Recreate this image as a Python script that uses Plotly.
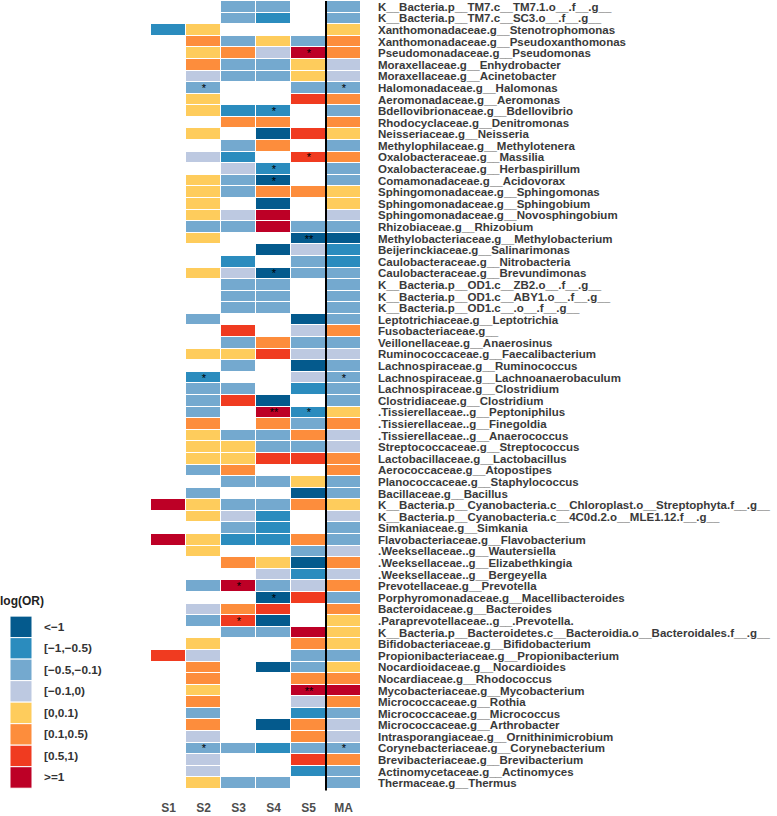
import plotly.graph_objects as go

N = None
taxa = [
    "K__Bacteria.p__TM7.c__TM7.1.o__.f__.g__",
    "K__Bacteria.p__TM7.c__SC3.o__.f__.g__",
    "Xanthomonadaceae.g__Stenotrophomonas",
    "Xanthomonadaceae.g__Pseudoxanthomonas",
    "Pseudomonadaceae.g__Pseudomonas",
    "Moraxellaceae.g__Enhydrobacter",
    "Moraxellaceae.g__Acinetobacter",
    "Halomonadaceae.g__Halomonas",
    "Aeromonadaceae.g__Aeromonas",
    "Bdellovibrionaceae.g__Bdellovibrio",
    "Rhodocyclaceae.g__Denitromonas",
    "Neisseriaceae.g__Neisseria",
    "Methylophilaceae.g__Methylotenera",
    "Oxalobacteraceae.g__Massilia",
    "Oxalobacteraceae.g__Herbaspirillum",
    "Comamonadaceae.g__Acidovorax",
    "Sphingomonadaceae.g__Sphingomonas",
    "Sphingomonadaceae.g__Sphingobium",
    "Sphingomonadaceae.g__Novosphingobium",
    "Rhizobiaceae.g__Rhizobium",
    "Methylobacteriaceae.g__Methylobacterium",
    "Beijerinckiaceae.g__Salinarimonas",
    "Caulobacteraceae.g__Nitrobacteria",
    "Caulobacteraceae.g__Brevundimonas",
    "K__Bacteria.p__OD1.c__ZB2.o__.f__.g__",
    "K__Bacteria.p__OD1.c__ABY1.o__.f__.g__",
    "K__Bacteria.p__OD1.c__.o__.f__.g__",
    "Leptotrichiaceae.g__Leptotrichia",
    "Fusobacteriaceae.g__",
    "Veillonellaceae.g__Anaerosinus",
    "Ruminococcaceae.g__Faecalibacterium",
    "Lachnospiraceae.g__Ruminococcus",
    "Lachnospiraceae.g__Lachnoanaerobaculum",
    "Lachnospiraceae.g__Clostridium",
    "Clostridiaceae.g__Clostridium",
    ".Tissierellaceae..g__Peptoniphilus",
    ".Tissierellaceae..g__Finegoldia",
    ".Tissierellaceae..g__Anaerococcus",
    "Streptococcaceae.g__Streptococcus",
    "Lactobacillaceae.g__Lactobacillus",
    "Aerococcaceae.g__Atopostipes",
    "Planococcaceae.g__Staphylococcus",
    "Bacillaceae.g__Bacillus",
    "K__Bacteria.p__Cyanobacteria.c__Chloroplast.o__Streptophyta.f__.g__",
    "K__Bacteria.p__Cyanobacteria.c__4C0d.2.o__MLE1.12.f__.g__",
    "Simkaniaceae.g__Simkania",
    "Flavobacteriaceae.g__Flavobacterium",
    ".Weeksellaceae..g__Wautersiella",
    ".Weeksellaceae..g__Elizabethkingia",
    ".Weeksellaceae..g__Bergeyella",
    "Prevotellaceae.g__Prevotella",
    "Porphyromonadaceae.g__Macellibacteroides",
    "Bacteroidaceae.g__Bacteroides",
    ".Paraprevotellaceae..g__.Prevotella.",
    "K__Bacteria.p__Bacteroidetes.c__Bacteroidia.o__Bacteroidales.f__.g__",
    "Bifidobacteriaceae.g__Bifidobacterium",
    "Propionibacteriaceae.g__Propionibacterium",
    "Nocardioidaceae.g__Nocardioides",
    "Nocardiaceae.g__Rhodococcus",
    "Mycobacteriaceae.g__Mycobacterium",
    "Micrococcaceae.g__Rothia",
    "Micrococcaceae.g__Micrococcus",
    "Micrococcaceae.g__Arthrobacter",
    "Intrasporangiaceae.g__Ornithinimicrobium",
    "Corynebacteriaceae.g__Corynebacterium",
    "Brevibacteriaceae.g__Brevibacterium",
    "Actinomycetaceae.g__Actinomyces",
    "Thermaceae.g__Thermus",
]

columns = ["S1", "S2", "S3", "S4", "S5", "MA"]

# category codes: 1 "<-1" ... 8 ">=1"
S1 = [N,N,2,N,N,N,N,N,N,N, N,N,N,N,N,N,N,N,N,N, N,N,N,N,N,N,N,N,N,N,
      N,N,N,N,N,N,N,N,N,N, N,N,N,8,N,N,8,N,N,N, N,N,N,N,N,N,7,N,N,N,
      N,N,N,N,N,N,N,N]
S2 = [N,N,5,6,5,6,4,3,5,5, N,5,N,4,N,5,5,5,5,3, 5,N,N,5,N,N,N,3,N,N,
      5,N,2,3,3,3,6,5,5,5, 3,N,3,5,5,N,5,5,N,N, 3,N,4,3,N,5,4,6,6,5,
      6,3,6,4,3,4,4,5]
S3 = [3,3,N,3,6,3,3,N,N,2, 6,N,3,2,4,3,3,N,4,3, N,N,2,4,3,3,3,N,7,3,
      5,3,N,3,7,N,N,3,5,5, 6,3,N,3,4,3,2,N,6,N, 8,N,6,7,3,N,N,N,N,N,
      N,N,N,N,3,N,N,3]
S4 = [3,2,N,5,4,3,3,N,N,2, 6,1,6,N,2,1,6,1,8,8, N,1,N,1,3,3,3,N,N,6,
      7,N,N,N,1,8,6,3,3,7, N,3,N,3,2,2,2,N,5,4, 3,1,7,1,3,N,N,1,N,N,
      N,N,1,N,2,N,N,3]
S5 = [N,N,N,3,8,5,5,3,7,N, N,7,N,7,N,N,6,N,N,3, 1,4,3,3,N,N,N,1,4,3,
      4,1,4,2,N,2,3,6,3,7, N,5,1,6,N,N,6,3,1,2, 4,7,N,N,8,6,3,3,6,8,
      4,2,6,6,3,7,2,N]
MA = [3,3,5,6,6,4,4,3,6,3, 6,5,3,6,3,3,5,5,4,3, 1,2,2,3,3,3,3,3,6,3,
      4,3,3,3,3,5,6,4,4,6, 6,3,3,5,4,3,3,4,6,4, 6,3,6,5,5,5,3,5,6,8,
      6,3,4,4,3,6,3,3]

significance = [
    ("Pseudomonadaceae.g__Pseudomonas", "S5", "*"),
    ("Halomonadaceae.g__Halomonas", "S2", "*"),
    ("Halomonadaceae.g__Halomonas", "MA", "*"),
    ("Bdellovibrionaceae.g__Bdellovibrio", "S4", "*"),
    ("Oxalobacteraceae.g__Massilia", "S5", "*"),
    ("Oxalobacteraceae.g__Herbaspirillum", "S4", "*"),
    ("Comamonadaceae.g__Acidovorax", "S4", "*"),
    ("Methylobacteriaceae.g__Methylobacterium", "S5", "**"),
    ("Caulobacteraceae.g__Brevundimonas", "S4", "*"),
    ("Lachnospiraceae.g__Lachnoanaerobaculum", "S2", "*"),
    ("Lachnospiraceae.g__Lachnoanaerobaculum", "MA", "*"),
    (".Tissierellaceae..g__Peptoniphilus", "S4", "**"),
    (".Tissierellaceae..g__Peptoniphilus", "S5", "*"),
    ("Prevotellaceae.g__Prevotella", "S3", "*"),
    ("Porphyromonadaceae.g__Macellibacteroides", "S4", "*"),
    (".Paraprevotellaceae..g__.Prevotella.", "S3", "*"),
    ("Mycobacteriaceae.g__Mycobacterium", "S5", "**"),
    ("Corynebacteriaceae.g__Corynebacterium", "S2", "*"),
    ("Corynebacteriaceae.g__Corynebacterium", "MA", "*"),
]

categories = ["<\u22121", "[\u22121,\u22120.5)", "[\u22120.5,\u22120.1)", "[\u22120.1,0)",
              "[0,0.1)", "[0.1,0.5)", "[0.5,1)", ">=1"]
colors = ["#045a8d", "#2b8cbe", "#74a9cf", "#bdc9e1",
          "#fecc5c", "#fd8d3c", "#f03b20", "#bd0026"]

# ---- build matrices ----
col_data = [S1, S2, S3, S4, S5, MA]
z = [[col_data[j][i] for j in range(len(columns))] for i in range(len(taxa))]
text = [["" for _ in columns] for _ in taxa]
for tx, col, mark in significance:
    text[taxa.index(tx)][columns.index(col)] = mark

n = len(colors)
colorscale = []
for k, c in enumerate(colors):
    colorscale.append([k / n, c])
    colorscale.append([(k + 1) / n, c])

FONT = "Liberation Sans, Arial, sans-serif"

fig = go.Figure()
fig.add_trace(go.Heatmap(
    z=z, x=columns, y=taxa, text=text, texttemplate="%{text}",
    textfont=dict(family=FONT, size=11, color="black"),
    colorscale=colorscale, zmin=0.5, zmax=n + 0.5, showscale=False,
    xgap=1, ygap=1, hoverongaps=False,
))

W, H = 777, 816
L, R, T, B = 151, 416, 1, 22
pw, ph = W - L - R, H - T - B


def px_x(px):
    return (px - L) / pw


def px_y(py):
    return (H - B - py) / ph


shapes = [dict(type="line", xref="x", yref="paper", x0=4.5, x1=4.5, y0=-0.002, y1=1,
               line=dict(color="black", width=2))]
annotations = [dict(text="log(OR)", xref="paper", yref="paper",
                    x=px_x(-2), y=px_y(605), xanchor="left", yanchor="middle",
                    showarrow=False,
                    font=dict(family=FONT, size=12, color="#222", weight="bold"))]
sw_top, sw_h = 620, 21.65
for k, (lab, c) in enumerate(zip(categories, colors)):
    y0 = sw_top + k * sw_h
    shapes.append(dict(type="rect", xref="paper", yref="paper",
                       x0=px_x(10), x1=px_x(32), y0=px_y(y0), y1=px_y(y0 + sw_h),
                       fillcolor=c, line=dict(color="white", width=1)))
    annotations.append(dict(text=lab, xref="paper", yref="paper",
                            x=px_x(42), y=px_y(y0 + sw_h / 2), xanchor="left",
                            yanchor="middle", showarrow=False,
                            font=dict(family=FONT, size=11.8, color="#333",
                                      weight="bold")))

fig.update_layout(
    width=W, height=H, margin=dict(l=L, r=R, t=T, b=B, pad=0),
    paper_bgcolor="white", plot_bgcolor="white",
    shapes=shapes, annotations=annotations,
    xaxis=dict(showgrid=False, zeroline=False, ticks="", showline=False,
               tickfont=dict(family=FONT, size=12, color="#4d4d4d", weight="bold"),
               ticklabelstandoff=10),
    yaxis=dict(side="right", autorange="reversed", showgrid=False, zeroline=False,
               ticks="", showline=False, ticklabelstandoff=16,
               tickmode="array", tickvals=taxa, ticktext=taxa,
               tickfont=dict(family=FONT, size=11.5, color="#3a3a3a", weight="bold")),
)

fig.write_html("out.html", config={"displayModeBar": False},
               post_script="document.body.style.margin='0';document.body.style.overflow='hidden';")
